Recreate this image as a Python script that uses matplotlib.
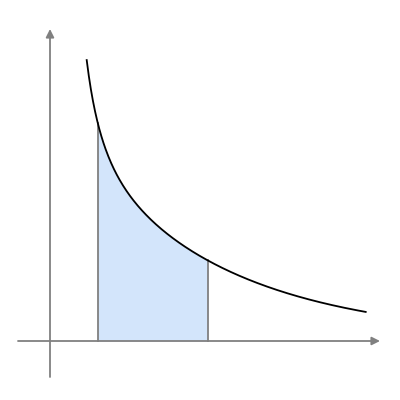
import matplotlib
matplotlib.use("Agg")
import matplotlib.pyplot as plt
import numpy as np

curve_x = [36.7, 43.3, 47.7, 56.7, 70, 83.3, 103.3, 130, 157.7, 180, 213.3, 246.7, 280, 315.7]
curve_y = [281, 234.3, 221, 191, 161, 141, 117.7, 94.3, 82.7, 71, 56, 44.3, 36, 29.3]
shade_a, shade_b = 47.7, 157.7

fig = plt.figure(figsize=(4, 4), dpi=100)
ax = fig.add_axes([0, 0, 1, 1])
ax.set_xlim(-50, 350)
ax.set_ylim(-59, 341)
ax.axis("off")

xs = np.array(curve_x); ys = np.array(curve_y)
# smooth curve through the read points (fit in log-log space)
coef = np.polyfit(np.log(xs), np.log(ys), 3)
f = lambda x: np.exp(np.polyval(coef, np.log(x)))
xc = np.linspace(xs[0], xs[-1], 400)
xf = np.linspace(shade_a, shade_b, 200)
ax.fill_between(xf, 0, f(xf), color="#d3e5fb", lw=0)
ax.plot([shade_a, shade_a], [0, f(shade_a)], color="#808080", lw=1.3)
ax.plot([shade_b, shade_b], [0, f(shade_b)], color="#808080", lw=1.3)
ax.plot(xc, f(xc), color="black", lw=1.3)

arrow = dict(arrowstyle="-|>", color="#808080", lw=1.3, mutation_scale=12, shrinkA=0, shrinkB=0)
ax.annotate("", xy=(330, 0), xytext=(-32, 0), arrowprops=arrow)
ax.annotate("", xy=(0, 312), xytext=(0, -36), arrowprops=arrow)

fig.savefig("out.png", dpi=100)
